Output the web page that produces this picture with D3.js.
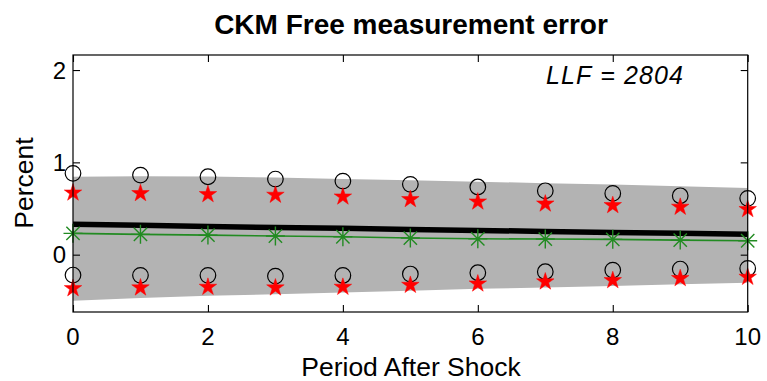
<!DOCTYPE html>
<html>
<head>
<meta charset="utf-8">
<script src="https://cdn.jsdelivr.net/npm/d3@7/dist/d3.min.js"></script>
<style>
  html, body { margin: 0; padding: 0; background: #fff; }
  svg { display: block; font-family: "Liberation Sans", Arial, Helvetica, sans-serif; }
</style>
</head>
<body>
<svg id="chart" width="767" height="381"></svg>
<script>
// ---- data ----
const periods = [0, 1, 2, 3, 4, 5, 6, 7, 8, 9, 10];
const bandUpper = [0.845, 0.850, 0.847, 0.835, 0.820, 0.805, 0.790, 0.775, 0.760, 0.740, 0.722];
const bandLower = [-0.500, -0.470, -0.445, -0.430, -0.410, -0.390, -0.370, -0.355, -0.340, -0.320, -0.305];
const meanLine = [0.330, 0.319, 0.305, 0.295, 0.285, 0.274, 0.263, 0.252, 0.241, 0.231, 0.222];
const greenLine = [0.231, 0.220, 0.212, 0.202, 0.194, 0.180, 0.172, 0.169, 0.166, 0.158, 0.151];
const circlesUpper = [0.881, 0.862, 0.844, 0.819, 0.797, 0.762, 0.733, 0.692, 0.664, 0.638, 0.610];
const circlesLower = [-0.221, -0.224, -0.224, -0.232, -0.225, -0.210, -0.196, -0.185, -0.167, -0.156, -0.149];
const starsUpper = [0.681, 0.675, 0.664, 0.657, 0.638, 0.610, 0.584, 0.562, 0.545, 0.527, 0.502];
const starsLower = [-0.355, -0.347, -0.340, -0.347, -0.340, -0.319, -0.304, -0.282, -0.268, -0.246, -0.232];
const xTicks = [0, 2, 4, 6, 8, 10];
const yTicks = [0, 1, 2];
const xDomain = [0, 10];
const yDomain = [-0.621, 2.163];
const titleText = "CKM Free measurement error";
const xLabel = "Period After Shock";
const yLabel = "Percent";
const llfText = "LLF = 2804";

// ---- layout ----
const svg = d3.select("#chart");
const m = { left: 73, top: 55, right: 767 - 747.7, bottom: 381 - 312 };
const W = 767 - m.left - m.right;
const H = 381 - m.top - m.bottom;
const x = d3.scaleLinear().domain(xDomain).range([0, W]);
const y = d3.scaleLinear().domain(yDomain).range([H, 0]);
const g = svg.append("g").attr("transform", `translate(${m.left},${m.top})`);

// band
const band = periods.map((p, i) => ({ p, lo: bandLower[i], hi: bandUpper[i] }));
g.append("path")
  .datum(band)
  .attr("fill", "#b3b3b3")
  .attr("d", d3.area().x(d => x(d.p)).y0(d => y(d.lo)).y1(d => y(d.hi)));

// mean line (thick black)
g.append("path")
  .datum(periods.map((p, i) => [p, meanLine[i]]))
  .attr("fill", "none").attr("stroke", "#000").attr("stroke-width", 5.5)
  .attr("d", d3.line().x(d => x(d[0])).y(d => y(d[1])));

// green line
g.append("path")
  .datum(periods.map((p, i) => [p, greenLine[i]]))
  .attr("fill", "none").attr("stroke", "#228b22").attr("stroke-width", 1.6)
  .attr("d", d3.line().x(d => x(d[0])).y(d => y(d[1])));

// green asterisks
const ast = 9.5;
const astG = g.selectAll("g.ast").data(periods.map((p, i) => [p, greenLine[i]]))
  .enter().append("g").attr("class", "ast")
  .attr("transform", d => `translate(${x(d[0])},${y(d[1])})`);
astG.append("path")
  .attr("stroke", "#228b22").attr("stroke-width", 1.4).attr("fill", "none")
  .attr("d", () => {
    const dd = ast * 0.7;
    return `M${-ast},0H${ast}M0,${-ast}V${ast}M${-dd},${-dd}L${dd},${dd}M${-dd},${dd}L${dd},${-dd}`;
  });

// circles
const circ = periods.flatMap((p, i) => [[p, circlesUpper[i]], [p, circlesLower[i]]]);
g.selectAll("circle.c").data(circ).enter().append("circle")
  .attr("class", "c")
  .attr("cx", d => x(d[0])).attr("cy", d => y(d[1])).attr("r", 7.8)
  .attr("fill", "none").attr("stroke", "#000").attr("stroke-width", 1.2);

// stars
const stars = periods.flatMap((p, i) => [[p, starsUpper[i]], [p, starsLower[i]]]);
const starSym = d3.symbol().type(d3.symbolStar).size(95);
g.selectAll("path.s").data(stars).enter().append("path")
  .attr("class", "s")
  .attr("transform", d => `translate(${x(d[0])},${y(d[1]) + 1})`)
  .attr("d", starSym)
  .attr("fill", "#ff0000").attr("stroke", "#ff0000").attr("stroke-width", 0.5);

// axes box with inward ticks
const tickLen = 7;
const axisG = g.append("g").attr("class", "axes");
axisG.append("rect").attr("x", 0).attr("y", 0).attr("width", W).attr("height", H)
  .attr("fill", "none").attr("stroke", "#000").attr("stroke-width", 1.2);

const xb = d3.axisBottom(x).tickValues(xTicks).tickSize(-tickLen).tickFormat("");
const xt = d3.axisTop(x).tickValues(xTicks).tickSize(-tickLen).tickFormat("");
const yl = d3.axisLeft(y).tickValues(yTicks).tickSize(-tickLen).tickFormat("");
const yr = d3.axisRight(y).tickValues(yTicks).tickSize(-tickLen).tickFormat("");
[[xb, `translate(0,${H})`], [xt, "translate(0,0)"], [yl, "translate(0,0)"], [yr, `translate(${W},0)`]]
  .forEach(([ax, tr]) => {
    const a = axisG.append("g").attr("transform", tr).call(ax);
    a.select(".domain").remove();
    a.selectAll("line").attr("stroke", "#000").attr("stroke-width", 1.1);
  });

// tick labels
g.selectAll("text.xt").data(xTicks).enter().append("text")
  .attr("class", "xt")
  .attr("x", d => x(d)).attr("y", 345 - m.top)
  .attr("text-anchor", "middle").attr("font-size", 24).attr("fill", "#000")
  .text(d => d);
g.selectAll("text.yt").data(yTicks).enter().append("text")
  .attr("class", "yt")
  .attr("x", -7).attr("y", d => y(d)).attr("dy", "0.36em")
  .attr("text-anchor", "end").attr("font-size", 24).attr("fill", "#000")
  .text(d => d);

// labels
svg.append("text").attr("x", 411).attr("y", 34)
  .attr("text-anchor", "middle").attr("font-size", 28).attr("font-weight", "bold")
  .text(titleText);
svg.append("text").attr("x", 411).attr("y", 376)
  .attr("text-anchor", "middle").attr("font-size", 26.5)
  .text(xLabel);
svg.append("text").attr("transform", "translate(33,183) rotate(-90)")
  .attr("text-anchor", "middle").attr("font-size", 26.5)
  .text(yLabel);
svg.append("text").attr("x", 546).attr("y", 84)
  .attr("font-size", 25).attr("font-style", "italic")
  .attr("textLength", 137).attr("lengthAdjust", "spacing")
  .text(llfText);
</script>
</body>
</html>
